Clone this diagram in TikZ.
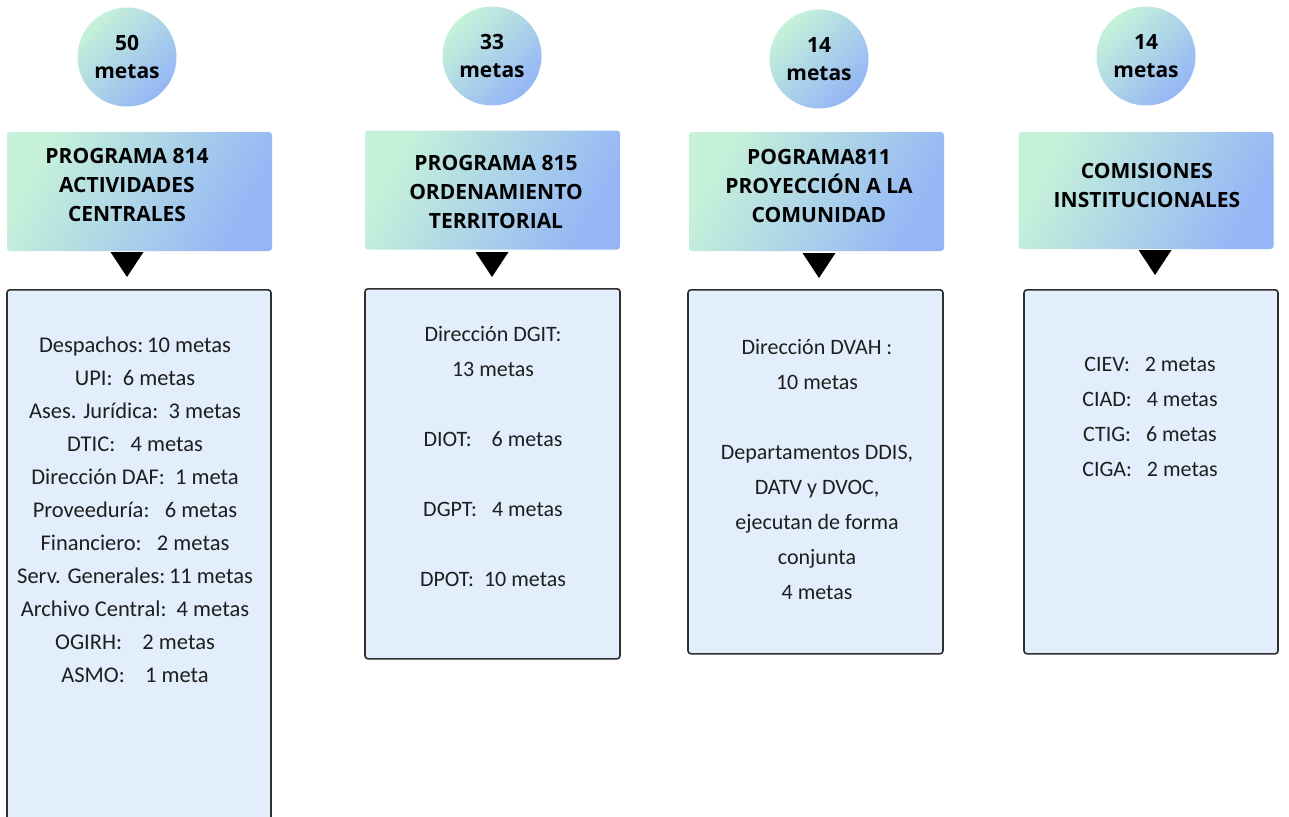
\documentclass[tikz,border=0pt]{standalone}
\usepackage{fontspec}
\setmainfont{Carlito}
\newfontfamily\headfont{Open Sans}
\usetikzlibrary{positioning}
\definecolor{mint}{HTML}{C6F2D9}
\definecolor{skyblue}{HTML}{94B6F6}
\definecolor{boxfill}{HTML}{E3EEFD}
\definecolor{boxline}{HTML}{2E2E2E}
\definecolor{inktext}{HTML}{1E1E1E}
\tikzset{
    goal circle/.style={
        circle,
        minimum size=99pt,
        inner sep=0,
        top color=mint,
        bottom color=skyblue,
        shading angle=45,
        align=center,
        font=\headfont\bfseries\fontsize{21}{28}\selectfont,
    },
    program box/.style={
        rectangle,
        rounded corners=3pt,
        minimum width=255pt,
        minimum height=119pt,
        inner sep=0,
        top color=mint,
        bottom color=skyblue,
        shading angle=62,
    },
    program title/.style={
        align=center,
        inner sep=0,
        font=\headfont\bfseries\fontsize{21}{29}\selectfont,
    },
    unit box/.style={
        draw=boxline,
        line width=1.6pt,
        fill=boxfill,
        rounded corners=3pt,
        minimum width=255pt,
        inner sep=0,
        anchor=north,
    },
    unit list/.style={
        align=center,
        inner sep=0,
        anchor=north,
        text=inktext,
        font=\fontsize{22}{35}\selectfont,
    },
    pointer/.style={
        fill=black,
    },
}

\begin{document}
\begin{tikzpicture}[x=1pt,y=-1pt]

    \useasboundingbox (0,0) rectangle (1289,816);
    \clip (0,0) rectangle (1289,816);

    \foreach \n/\cx/\cy/\goal in {1/127/57/50, 2/492/56/33, 3/819/59/14, 4/1146/56/14}
    {
        \node[goal circle] (goal\n) at (\cx,\cy) {\goal\\metas};
    }

    % program headers
    \node[program box, minimum width=265] (prog1) at (139.5,191.5) {};
    \node[program box] (prog2) at (492.5,190) {};
    \node[program box] (prog3) at (816.5,191.5) {};
    \node[program box, minimum height=117] (prog4) at (1146,190.5) {};

    \node[program title] (title1) at (127,185) {PROGRAMA 814\\ACTIVIDADES\\CENTRALES};
    \node[program title] (title2) at (496,192) {PROGRAMA 815\\ORDENAMIENTO\\TERRITORIAL};
    \node[program title] (title3) at (819,186) {POGRAMA811\\PROYECCIÓN A LA\\COMUNIDAD};
    \node[program title] (title4) at (1147,185) {COMISIONES\\INSTITUCIONALES};

    % units
    \node[unit box, minimum width=264, minimum height=570] (unit1) at (139,289) {};
    \node[unit box, minimum height=370] (unit2) at (492.5,288) {};
    \node[unit box, minimum height=364] (unit3) at (815.5,289) {};
    \node[unit box, minimum width=254, minimum height=364] (unit4) at (1151,289) {};

    \foreach \n/\cx/\cy in {1/127/277, 2/492/277, 3/819/278, 4/1155/275}
    {
        \coordinate (tip\n) at (\cx,\cy);
        \fill[pointer] (tip\n) -- ++(-16.5,-25) -- ++(33,0) -- cycle;
    }

    \node[unit list, font=\fontsize{22.5}{33}\selectfont] (list1) at (135,336.5) {%
        Despachos:\,10 metas\\
        UPI:~~6 metas\\
        Ases. Jurídica:~~3 metas\\
        DTIC:~~~4 metas\\
        Dirección DAF:~~1 meta\\
        Proveeduría:~~~6 metas\\
        Financiero:~~~2 metas\\
        Serv. Generales:\,11 metas\\
        Archivo Central:~~4 metas\\
        OGIRH:~~~~2 metas\\
        ASMO:~~~~1 meta};
    \node[unit list] (list2) at (493,326) {%
        Dirección DGIT:\\
        13 metas\\[35pt]
        DIOT:~~~~6 metas\\[35pt]
        DGPT:~~~4 metas\\[35pt]
        DPOT:~~10 metas};
    \node[unit list] (list3) at (817,339) {%
        Dirección DVAH :\\
        10 metas\\[35pt]
        Departamentos DDIS,\\
        DATV y DVOC,\\
        ejecutan de forma\\
        conjunta\\
        4 metas};
    \node[unit list] (list4) at (1150,357) {%
        CIEV:~~~2 metas\\
        CIAD:~~~4 metas\\
        CTIG:~~~6 metas\\
        CIGA:~~~2 metas};

\end{tikzpicture}
\end{document}
